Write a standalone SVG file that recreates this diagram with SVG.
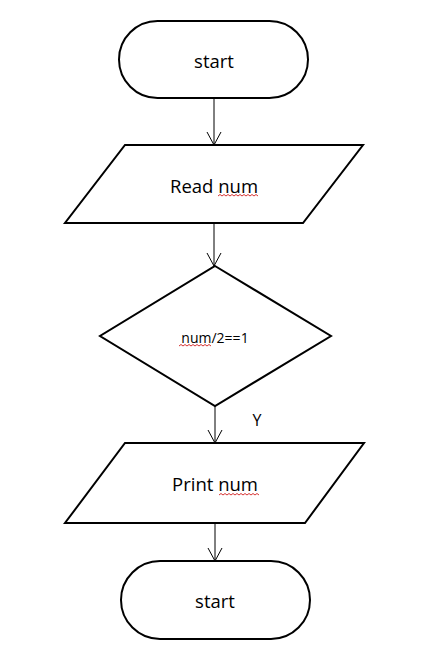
<svg xmlns="http://www.w3.org/2000/svg" width="448" height="666" viewBox="0 0 448 666">
<style>
.shape{fill:#fff;stroke:#000;stroke-width:2}
.conn{stroke:#000;stroke-width:1;fill:none}
.lbl{font-family:"Open Sans","Liberation Sans",sans-serif;font-size:18.5px;fill:#000;text-anchor:middle;dominant-baseline:central}
.small{font-size:14px}
.y{font-size:16px}
.sq{stroke:#c00;stroke-width:0.8;fill:none}
</style>
<defs>
<marker id="arr" viewBox="0 0 14 16" refX="13" refY="8" markerWidth="14" markerHeight="16" markerUnits="userSpaceOnUse" orient="auto">
<path d="M0,1 L13,8 L0,15" fill="none" stroke="#000" stroke-width="1"/>
</marker>
</defs>
<rect width="448" height="666" fill="#fff"/>
<g id="connectors">
<line class="conn" x1="214" y1="98" x2="214" y2="145" marker-end="url(#arr)"/>
<line class="conn" x1="214" y1="223" x2="214" y2="266" marker-end="url(#arr)"/>
<line class="conn" x1="215" y1="406" x2="215" y2="443" marker-end="url(#arr)"/>
<line class="conn" x1="215" y1="523" x2="215" y2="561" marker-end="url(#arr)"/>
<text class="lbl y" x="257" y="420">Y</text>
</g>
<g id="start1">
<rect class="shape" x="119" y="21" width="189" height="77" rx="38.5" ry="38.5"/>
<text class="lbl" x="214" y="60">start</text>
</g>
<g id="read">
<polygon class="shape" points="125,145 363,145 303,223 65,223"/>
<text class="lbl" x="214" y="185">Read num</text>
<path class="sq" d="M218,196 l2,-1.5 l2,1.5 l2,-1.5 l2,1.5 l2,-1.5 l2,1.5 l2,-1.5 l2,1.5 l2,-1.5 l2,1.5 l2,-1.5 l2,1.5 l2,-1.5 l2,1.5 l2,-1.5 l2,1.5 l2,-1.5 l2,1.5 l2,-1.5 l2,1.5"/>
</g>
<g id="decision">
<polygon class="shape" points="215,266 331,336 215,406 100,336"/>
<text class="lbl small" x="215" y="337">num/2==1</text>
<path class="sq" d="M179,346 l2,-1.5 l2,1.5 l2,-1.5 l2,1.5 l2,-1.5 l2,1.5 l2,-1.5 l2,1.5 l2,-1.5 l2,1.5 l2,-1.5 l2,1.5 l2,-1.5 l2,1.5 l2,-1.5 l2,1.5"/>
</g>
<g id="print">
<polygon class="shape" points="125,443 364,443 305,523 65,523"/>
<text class="lbl" x="215" y="483">Print num</text>
<path class="sq" d="M219,495 l2,-1.5 l2,1.5 l2,-1.5 l2,1.5 l2,-1.5 l2,1.5 l2,-1.5 l2,1.5 l2,-1.5 l2,1.5 l2,-1.5 l2,1.5 l2,-1.5 l2,1.5 l2,-1.5 l2,1.5 l2,-1.5 l2,1.5 l2,-1.5 l2,1.5"/>
</g>
<g id="start2">
<rect class="shape" x="121" y="561" width="189" height="78" rx="39" ry="39"/>
<text class="lbl" x="215" y="600">start</text>
</g>
</svg>
